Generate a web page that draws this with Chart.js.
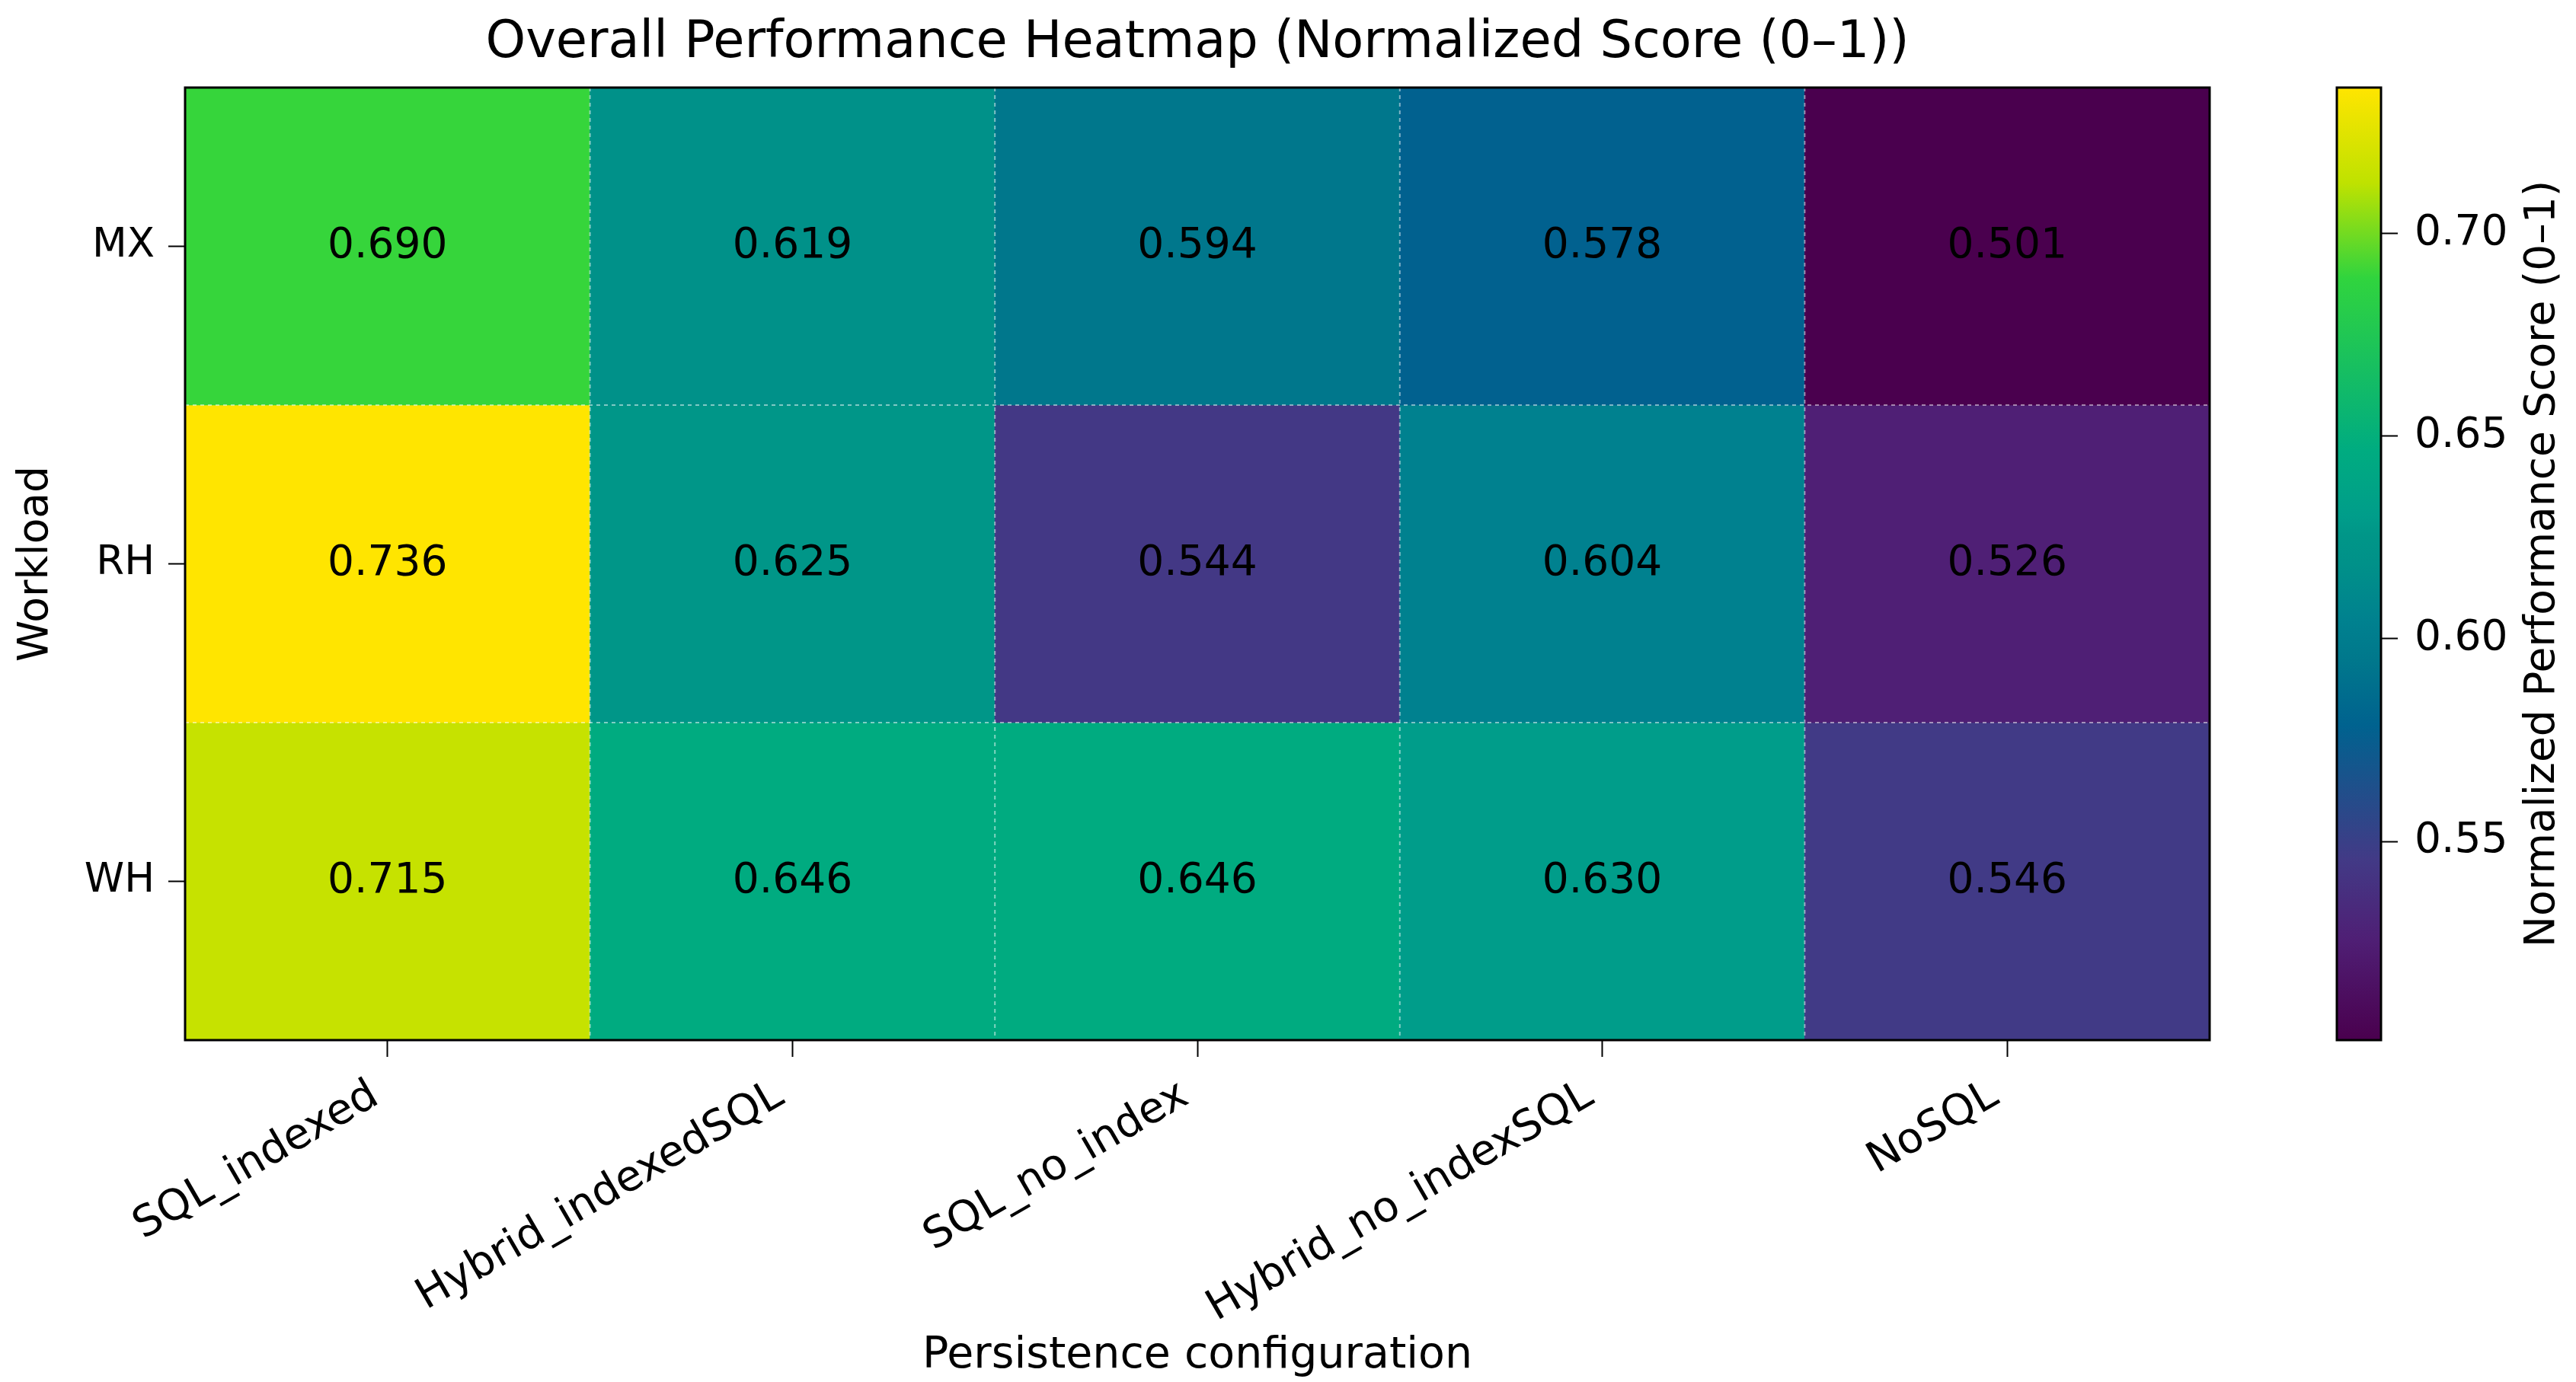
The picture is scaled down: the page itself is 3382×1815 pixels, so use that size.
<!DOCTYPE html>
<html>
<head>
<meta charset="utf-8">
<script src="https://cdn.jsdelivr.net/npm/chart.js@4.4.0/dist/chart.umd.min.js"></script>
<style>
html, body { margin: 0; padding: 0; background: #fff; overflow: hidden; }
#wrap { position: relative; width: 3382px; height: 1815px; }
#main { position: absolute; left: 0; top: 0; }
#cbar { position: absolute; left: 3000px; top: 0; }
</style>
</head>
<body>
<div id="wrap">
  <canvas id="main" width="3382" height="1815"></canvas>
  <canvas id="cbar" width="382" height="1815"></canvas>
</div>
<script>
// ===== DATA =====
const configs = ['SQL_indexed', 'Hybrid_indexedSQL', 'SQL_no_index', 'Hybrid_no_indexSQL', 'NoSQL'];
const workloads = ['MX', 'RH', 'WH'];
const scoreMX = [0.690, 0.619, 0.594, 0.578, 0.501];
const scoreRH = [0.736, 0.625, 0.544, 0.604, 0.526];
const scoreWH = [0.715, 0.646, 0.646, 0.630, 0.546];
const cbarTicks = [0.55, 0.60, 0.65, 0.70];
const vMin = 0.501, vMax = 0.736;

const rows = [scoreMX, scoreRH, scoreWH];

// colour stops (viridis-like, as in the picture)
const stops = [
    [0.00, '#4a004e'], [0.106, '#4f1f75'], [0.19, '#423a86'], [0.33, '#00628f'],
    [0.40, '#00788c'], [0.44, '#00818f'], [0.50, '#009189'], [0.53, '#009688'],
    [0.55, '#009d8a'], [0.62, '#00ac80'], [0.80, '#30d43e'], [0.90, '#bfe200'],
    [1.00, '#ffe500']
];

function hex2rgb(h) {
    return [parseInt(h.substr(1, 2), 16), parseInt(h.substr(3, 2), 16), parseInt(h.substr(5, 2), 16)];
}

function cmap(v) {
    let t = (v - vMin) / (vMax - vMin);
    t = Math.max(0, Math.min(1, t));
    for (let i = 1; i < stops.length; i++) {
        if (t <= stops[i][0]) {
            const a = hex2rgb(stops[i - 1][1]), b = hex2rgb(stops[i][1]);
            const f = (t - stops[i - 1][0]) / (stops[i][0] - stops[i - 1][0]);
            const c = a.map((x, k) => Math.round(x + (b[k] - x) * f));
            return `rgb(${c[0]},${c[1]},${c[2]})`;
        }
    }
    return stops[stops.length - 1][1];
}

Chart.defaults.font.family = "'DejaVu Sans', sans-serif";
Chart.defaults.color = '#000';

// ===== PLUGINS =====
const frame = {
    id: 'frame',
    afterDraw(chart) {
        const { ctx, chartArea: a } = chart;
        ctx.save();
        ctx.strokeStyle = '#000';
        ctx.lineWidth = 3;
        ctx.strokeRect(a.left, a.top, a.right - a.left, a.bottom - a.top);
        ctx.restore();
    }
};

// title centred over the plot area (not the whole canvas)
const plotTitle = {
    id: 'plotTitle',
    afterDraw(chart) {
        const { ctx, chartArea: a } = chart;
        ctx.save();
        ctx.fillStyle = '#000';
        ctx.font = "67px 'DejaVu Sans', sans-serif";
        ctx.textAlign = 'center';
        ctx.textBaseline = 'middle';
        ctx.fillText('Overall Performance Heatmap (Normalized Score (0–1))', (a.left + a.right) / 2, 58);
        ctx.restore();
    }
};

const cells = {
    id: 'cells',
    afterDatasetsDraw(chart) {
        const { ctx, chartArea: a, scales: { x, y } } = chart;
        ctx.save();
        // dashed white separators
        ctx.strokeStyle = 'rgba(255,255,255,0.5)';
        ctx.lineWidth = 2;
        ctx.setLineDash([5, 5]);
        for (let i = 0; i < configs.length - 1; i++) {
            const px = (x.getPixelForValue(i) + x.getPixelForValue(i + 1)) / 2;
            ctx.beginPath(); ctx.moveTo(px, a.top); ctx.lineTo(px, a.bottom); ctx.stroke();
        }
        for (let r = 0; r < workloads.length - 1; r++) {
            const py = y.getPixelForValue(r + 0.5);
            ctx.beginPath(); ctx.moveTo(a.left, py); ctx.lineTo(a.right, py); ctx.stroke();
        }
        ctx.setLineDash([]);
        // value labels
        ctx.fillStyle = '#000';
        ctx.font = "55px 'DejaVu Sans', sans-serif";
        ctx.textAlign = 'center';
        ctx.textBaseline = 'middle';
        chart.data.datasets.forEach((ds, di) => {
            chart.getDatasetMeta(di).data.forEach((bar, i) => {
                ctx.fillText(ds.values[i].toFixed(3), bar.x, (bar.y + bar.base) / 2);
            });
        });
        ctx.restore();
    }
};

const cbarLabel = {
    id: 'cbarLabel',
    afterDraw(chart) {
        const { ctx, chartArea: a } = chart;
        ctx.save();
        ctx.translate(339, (a.top + a.bottom) / 2);
        ctx.rotate(-Math.PI / 2);
        ctx.fillStyle = '#000';
        ctx.font = "55px 'DejaVu Sans', sans-serif";
        ctx.textAlign = 'center';
        ctx.textBaseline = 'middle';
        ctx.fillText('Normalized Performance Score (0–1)', 0, 0);
        ctx.restore();
    }
};

// ===== HEATMAP =====
const datasets = rows.map((vals, r) => ({
    label: workloads[r],
    data: vals.map(() => [r - 0.5, r + 0.5]),
    values: vals,
    backgroundColor: vals.map(cmap),
    borderWidth: 0,
    grouped: false,
    barPercentage: 1,
    categoryPercentage: 1
}));

new Chart(document.getElementById('main'), {
    type: 'bar',
    data: { labels: configs, datasets: datasets },
    options: {
        responsive: false,
        devicePixelRatio: 1,
        animation: false,
        layout: { padding: { left: 0, top: 115, right: 481, bottom: 0 } },
        plugins: {
            legend: { display: false },
            tooltip: { enabled: false },
            title: { display: false }
        },
        scales: {
            x: {
                type: 'category',
                offset: true,
                grid: { offset: false, drawOnChartArea: false, drawTicks: true, tickLength: 22, tickWidth: 2, tickColor: '#000' },
                border: { display: false },
                ticks: { font: { size: 56 }, minRotation: 30, maxRotation: 30, padding: 18, labelOffset: -16, color: '#000' },
                title: { display: true, text: 'Persistence configuration', font: { size: 57 }, padding: { top: 0, bottom: 0 }, color: '#000' },
                afterFit: s => { s.height = 449; }
            },
            y: {
                type: 'linear',
                min: -0.5,
                max: 2.5,
                reverse: true,
                afterBuildTicks: s => { s.ticks = workloads.map((w, i) => ({ value: i })); },
                ticks: { callback: v => workloads[v], font: { size: 53 }, padding: 18, color: '#000' },
                grid: { drawOnChartArea: false, drawTicks: true, tickLength: 22, tickWidth: 2, tickColor: '#000' },
                border: { display: false },
                title: { display: true, text: 'Workload', font: { size: 55 }, padding: { top: 15, bottom: 0 }, color: '#000' },
                afterFit: s => { s.width = 243; }
            }
        }
    },
    plugins: [cells, frame, plotTitle]
});

// ===== COLORBAR =====
new Chart(document.getElementById('cbar'), {
    type: 'bar',
    data: {
        labels: [''],
        datasets: [{
            data: [[vMin, vMax]],
            backgroundColor: (c) => {
                const a = c.chart.chartArea;
                if (!a) return '#888';
                const g = c.chart.ctx.createLinearGradient(0, a.bottom, 0, a.top);
                stops.forEach(s => g.addColorStop(s[0], s[1]));
                return g;
            },
            borderWidth: 0,
            barPercentage: 1,
            categoryPercentage: 1
        }]
    },
    options: {
        responsive: false,
        devicePixelRatio: 1,
        animation: false,
        layout: { padding: { left: 68, top: 115, right: 0, bottom: 449 } },
        plugins: { legend: { display: false }, tooltip: { enabled: false } },
        scales: {
            x: { display: false },
            y: {
                position: 'right',
                min: vMin,
                max: vMax,
                afterBuildTicks: s => { s.ticks = cbarTicks.map(v => ({ value: v })); },
                ticks: { callback: v => v.toFixed(2), font: { size: 55 }, padding: 22, color: '#000' },
                grid: { drawOnChartArea: false, drawTicks: true, tickLength: 22, tickWidth: 2, tickColor: '#000' },
                border: { display: false },
                afterFit: s => { s.width = 256; }
            }
        }
    },
    plugins: [frame, cbarLabel]
});
</script>
</body>
</html>
